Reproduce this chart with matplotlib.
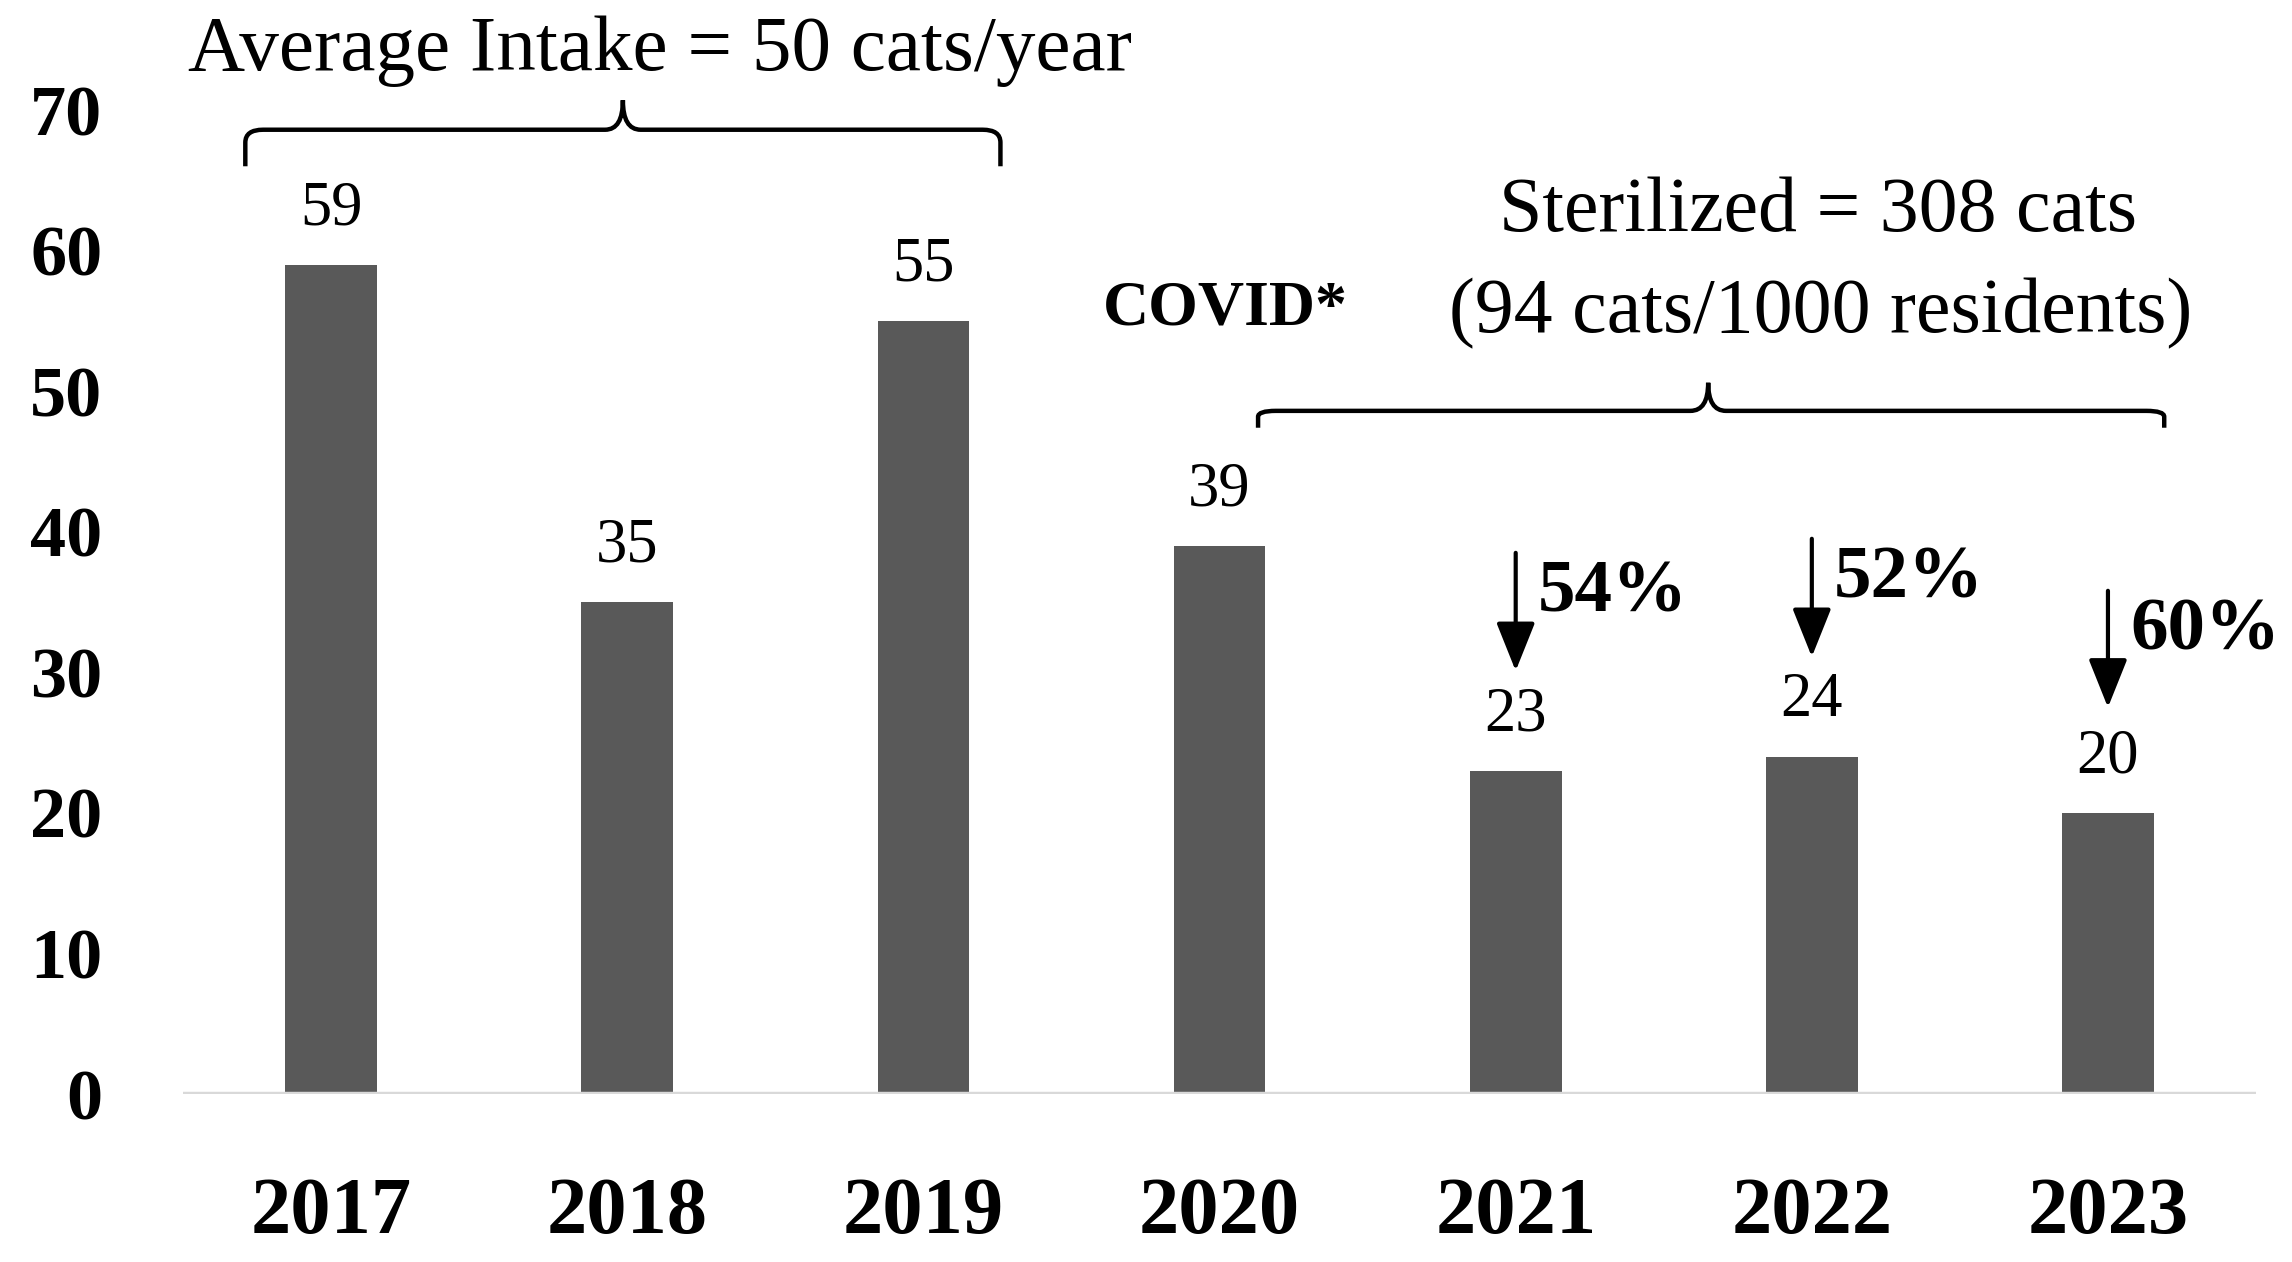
import matplotlib.pyplot as plt
from matplotlib.path import Path
from matplotlib.patches import PathPatch
import numpy as np

plt.rcParams['font.family'] = ['Liberation Serif', 'DejaVu Serif']

years = ['2017', '2018', '2019', '2020', '2021', '2022', '2023']
intake = [59, 35, 55, 39, 23, 24, 20]
drops = {4: '54%', 5: '52%', 6: '60%'}
y_ticks = [0, 10, 20, 30, 40, 50, 60, 70]


def brace(ax, x0, x1, xc, y_line, y_end, y_peak, lw=3.2):
    r = 0.06
    h = (y_line - y_end) * 0.35
    verts = [(x0, y_end), (x0, y_line - h), (x0, y_line), (x0 + r, y_line),
             (xc - r, y_line), (xc, y_line), (xc, y_peak),
             (xc, y_line), (xc + r, y_line),
             (x1 - r, y_line), (x1, y_line), (x1, y_line - h), (x1, y_end)]
    codes = [Path.MOVETO, Path.LINETO, Path.CURVE3, Path.CURVE3,
             Path.LINETO, Path.CURVE3, Path.CURVE3,
             Path.CURVE3, Path.CURVE3,
             Path.LINETO, Path.CURVE3, Path.CURVE3, Path.LINETO]
    ax.add_patch(PathPatch(Path(verts, codes), fill=False, lw=lw,
                           edgecolor='black', clip_on=False))


fig = plt.figure(figsize=(22.92, 12.62), dpi=100)
ax = fig.add_axes([0.0799, 0.1331, 0.9044, 0.7797])

x = np.arange(len(years))
bars = ax.bar(x, intake, width=0.31, color='#595959', zorder=2)
ax.axhline(0, color='#d9d9d9', lw=3.2, zorder=3)

ax.set_xlim(-0.5, 6.5)
ax.set_ylim(0, 70)
for s in ax.spines.values():
    s.set_visible(False)
ax.set_yticks(y_ticks)
ax.set_xticks(x)
ax.set_xticklabels(years)
ax.tick_params(axis='y', length=0, pad=58, labelsize=52)
ax.tick_params(axis='x', length=0, pad=60, labelsize=58)
for lab in ax.get_xticklabels() + ax.get_yticklabels():
    lab.set_fontweight('bold')

for xi, v in zip(x, intake):
    ax.annotate(str(v), (xi, v), xytext=(0, 40), textcoords='offset points',
                ha='center', va='center', fontsize=45)

for i, txt in drops.items():
    top = intake[i] + 15.5 if i < 6 else intake[i] + 15.8
    tip = intake[i] + 7.1 if i < 6 else intake[i] + 7.5
    ax.annotate('', xy=(x[i], tip), xytext=(x[i], top),
                arrowprops=dict(arrowstyle='-|>,head_length=3.0,head_width=1.2',
                                lw=3.0, color='black', shrinkA=0, shrinkB=0))
    ax.text(x[i] + 0.075, top - 2.9, txt, fontsize=54, fontweight='bold',
            ha='left', va='center')

# bracket over 2017-2019
brace(ax, -0.29, 2.26, 0.985, 68.6, 66.0, 70.7)
ax.text(1.11, 74.2, 'Average Intake = 50 cats/year', fontsize=57,
        ha='center', va='center', clip_on=False)

# bracket over 2020-2023
brace(ax, 3.13, 6.19, 4.65, 48.6, 47.4, 50.6)
ax.text(5.02, 62.7, 'Sterilized = 308 cats', fontsize=56,
        ha='center', va='center')
ax.text(5.03, 55.5, '(94 cats/1000 residents)', fontsize=56,
        ha='center', va='center')
ax.text(3.02, 55.8, 'COVID*', fontsize=46, fontweight='bold',
        ha='center', va='center')

fig.savefig('out.png', dpi=100)
